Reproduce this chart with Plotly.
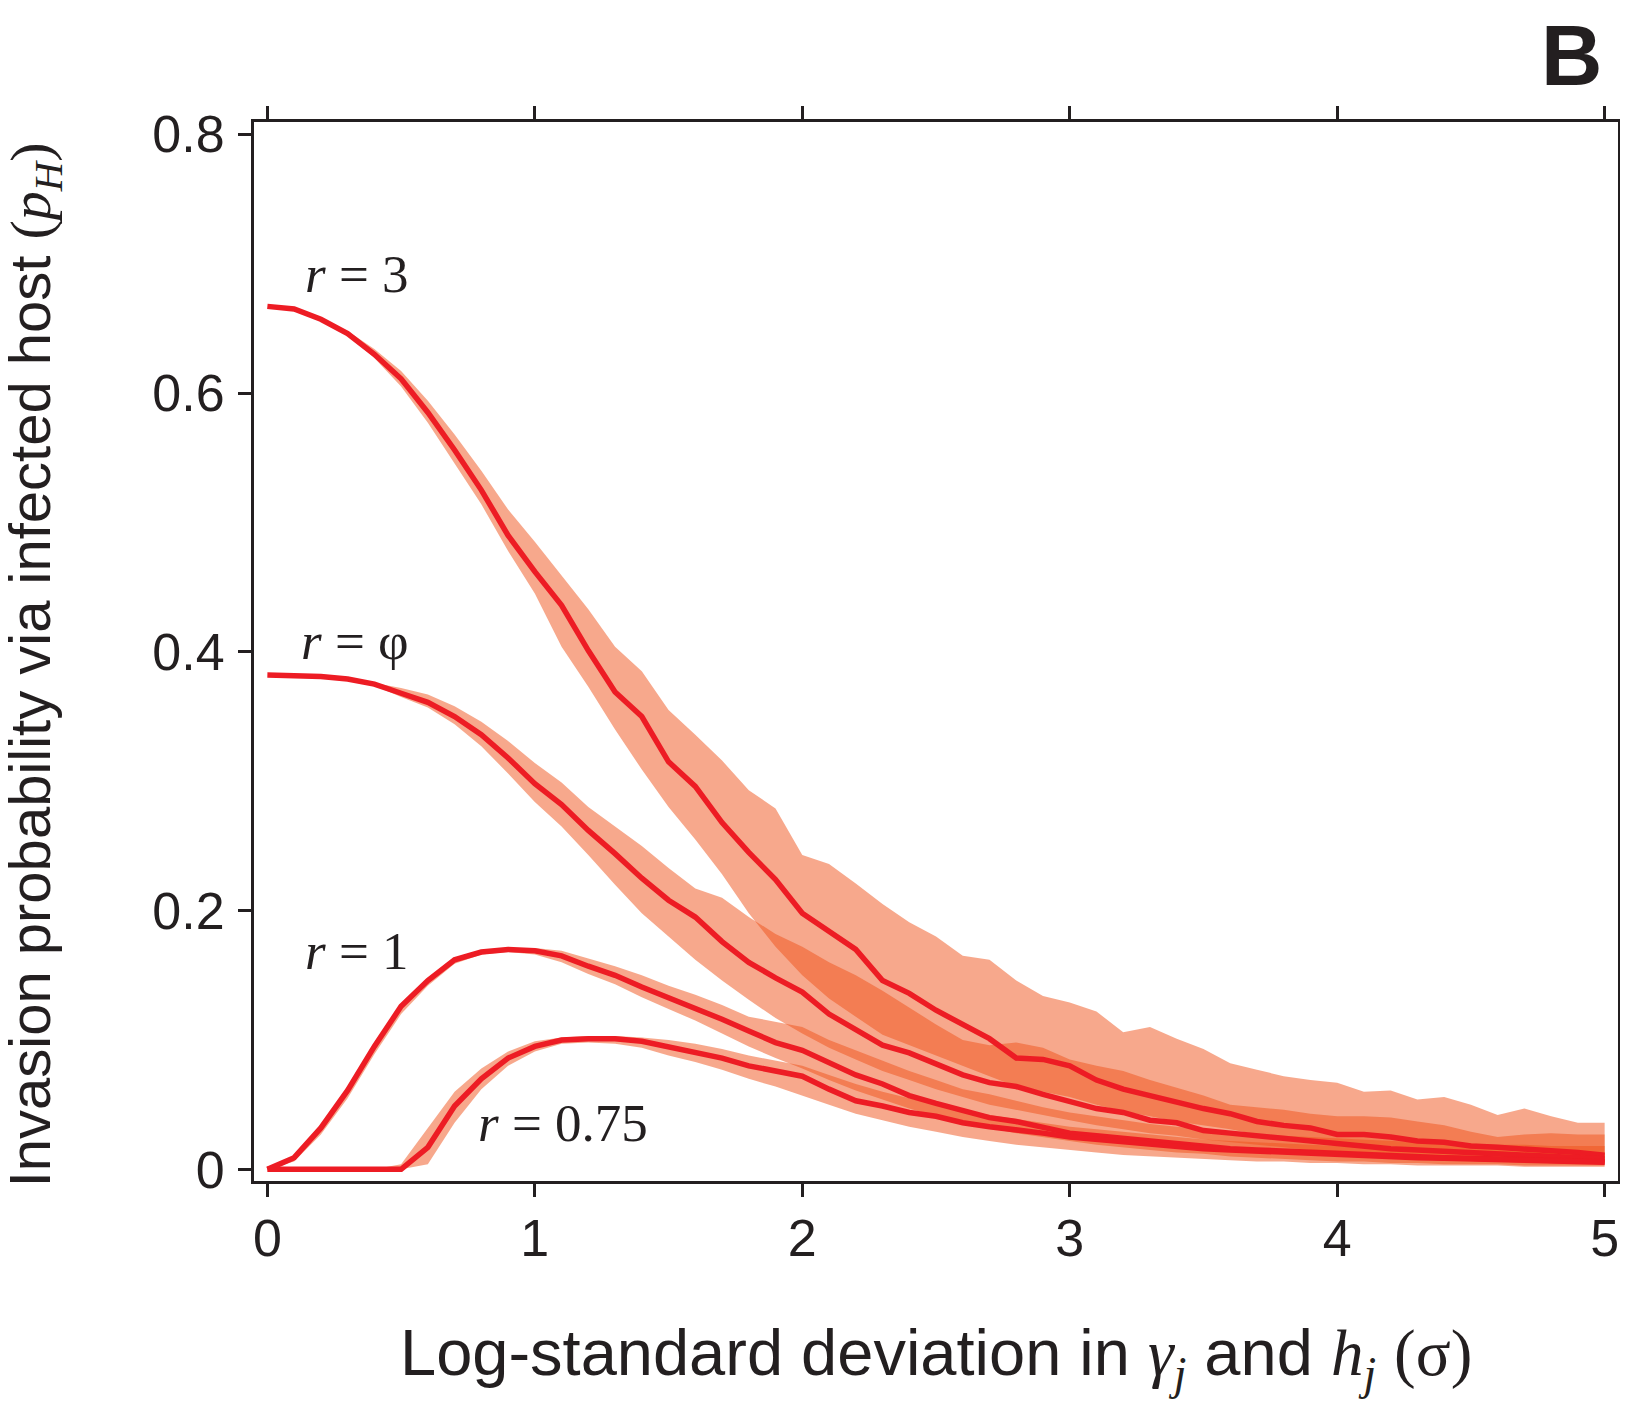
import plotly.graph_objects as go

# x grid (log-standard deviation sigma)
sigma = [0.0, 0.1, 0.2, 0.3, 0.4, 0.5, 0.6, 0.7, 0.8, 0.9,
         1.0, 1.1, 1.2, 1.3, 1.4, 1.5, 1.6, 1.7, 1.8, 1.9,
         2.0, 2.1, 2.2, 2.3, 2.4, 2.5, 2.6, 2.7, 2.8, 2.9,
         3.0, 3.1, 3.2, 3.3, 3.4, 3.5, 3.6, 3.7, 3.8, 3.9,
         4.0, 4.1, 4.2, 4.3, 4.4, 4.5, 4.6, 4.7, 4.8, 4.9,
         5.0]

# r = 3
r3_med = [0.667, 0.665, 0.657, 0.646, 0.630, 0.611, 0.585, 0.556, 0.525, 0.490,
          0.462, 0.436, 0.401, 0.369, 0.350, 0.315, 0.296, 0.268, 0.245, 0.224,
          0.198, 0.184, 0.170, 0.146, 0.136, 0.123, 0.112, 0.101, 0.086, 0.085,
          0.080, 0.069, 0.062, 0.057, 0.051, 0.047, 0.043, 0.037, 0.034, 0.032,
          0.027, 0.027, 0.025, 0.022, 0.021, 0.018, 0.017, 0.016, 0.014, 0.013,
          0.011]
r3_hi = [0.667, 0.665, 0.658, 0.648, 0.634, 0.617, 0.594, 0.568, 0.540, 0.510,
         0.485, 0.459, 0.433, 0.404, 0.385, 0.355, 0.336, 0.316, 0.293, 0.279,
         0.243, 0.236, 0.221, 0.205, 0.191, 0.180, 0.165, 0.162, 0.146, 0.134,
         0.129, 0.122, 0.106, 0.110, 0.101, 0.093, 0.082, 0.077, 0.072, 0.069,
         0.067, 0.060, 0.061, 0.054, 0.056, 0.050, 0.042, 0.047, 0.041, 0.036,
         0.036]
r3_lo = [0.667, 0.665, 0.656, 0.645, 0.627, 0.605, 0.577, 0.546, 0.514, 0.478,
         0.445, 0.404, 0.373, 0.340, 0.309, 0.280, 0.255, 0.228, 0.198, 0.172,
         0.150, 0.132, 0.118, 0.104, 0.096, 0.088, 0.080, 0.072, 0.064, 0.060,
         0.056, 0.050, 0.045, 0.041, 0.037, 0.034, 0.031, 0.027, 0.025, 0.023,
         0.020, 0.019, 0.018, 0.016, 0.015, 0.013, 0.012, 0.011, 0.010, 0.009,
         0.008]

# r = golden ratio (phi)
phi_med = [0.382, 0.382, 0.381, 0.379, 0.375, 0.368, 0.361, 0.350, 0.336, 0.318,
           0.298, 0.282, 0.262, 0.244, 0.225, 0.208, 0.195, 0.176, 0.160, 0.148,
           0.137, 0.120, 0.108, 0.096, 0.090, 0.081, 0.073, 0.067, 0.064, 0.058,
           0.052, 0.047, 0.044, 0.038, 0.036, 0.030, 0.028, 0.026, 0.023, 0.021,
           0.019, 0.018, 0.016, 0.015, 0.014, 0.013, 0.012, 0.011, 0.010, 0.009,
           0.008]
phi_hi = [0.382, 0.382, 0.381, 0.379, 0.376, 0.372, 0.367, 0.358, 0.346, 0.331,
          0.314, 0.299, 0.280, 0.265, 0.250, 0.233, 0.217, 0.210, 0.195, 0.182,
          0.172, 0.160, 0.150, 0.138, 0.125, 0.112, 0.100, 0.096, 0.098, 0.094,
          0.085, 0.080, 0.076, 0.069, 0.063, 0.057, 0.050, 0.048, 0.046, 0.043,
          0.041, 0.041, 0.040, 0.037, 0.034, 0.029, 0.025, 0.027, 0.028, 0.027,
          0.027]
phi_lo = [0.382, 0.382, 0.381, 0.379, 0.374, 0.365, 0.357, 0.344, 0.327, 0.306,
          0.284, 0.265, 0.243, 0.220, 0.198, 0.180, 0.162, 0.146, 0.131, 0.117,
          0.105, 0.094, 0.085, 0.076, 0.069, 0.062, 0.056, 0.050, 0.046, 0.042,
          0.038, 0.034, 0.031, 0.028, 0.026, 0.023, 0.021, 0.019, 0.017, 0.015,
          0.014, 0.013, 0.012, 0.011, 0.010, 0.009, 0.008, 0.007, 0.006, 0.006,
          0.005]

# r = 1
r1_med = [0.000, 0.009, 0.032, 0.061, 0.095, 0.126, 0.146, 0.162, 0.168, 0.170,
          0.169, 0.165, 0.157, 0.150, 0.141, 0.133, 0.125, 0.116, 0.107, 0.098,
          0.092, 0.082, 0.073, 0.066, 0.057, 0.051, 0.045, 0.040, 0.037, 0.032,
          0.028, 0.026, 0.024, 0.021, 0.020, 0.018, 0.016, 0.015, 0.014, 0.013,
          0.012, 0.011, 0.010, 0.0095, 0.009, 0.0085, 0.008, 0.0075, 0.007, 0.0065,
          0.006]
r1_hi = [0.000, 0.010, 0.034, 0.064, 0.098, 0.128, 0.148, 0.163, 0.169, 0.171,
         0.171, 0.169, 0.163, 0.157, 0.150, 0.142, 0.135, 0.127, 0.118, 0.114,
         0.110, 0.100, 0.092, 0.084, 0.076, 0.069, 0.062, 0.058, 0.053, 0.048,
         0.044, 0.041, 0.038, 0.035, 0.033, 0.031, 0.029, 0.027, 0.026, 0.025,
         0.024, 0.023, 0.022, 0.021, 0.020, 0.020, 0.019, 0.019, 0.018, 0.018,
         0.018]
r1_lo = [0.000, 0.006, 0.027, 0.055, 0.089, 0.120, 0.142, 0.159, 0.166, 0.168,
         0.166, 0.160, 0.151, 0.143, 0.133, 0.124, 0.115, 0.105, 0.095, 0.086,
         0.078, 0.069, 0.061, 0.054, 0.047, 0.041, 0.036, 0.032, 0.028, 0.025,
         0.022, 0.019, 0.017, 0.015, 0.013, 0.012, 0.010, 0.009, 0.008, 0.007,
         0.006, 0.006, 0.005, 0.005, 0.004, 0.004, 0.004, 0.003, 0.003, 0.003,
         0.003]

# r = 0.75
r075_med = [0.000, 0.000, 0.000, 0.000, 0.000, 0.000, 0.017, 0.049, 0.070, 0.086,
            0.095, 0.100, 0.101, 0.101, 0.099, 0.095, 0.091, 0.086, 0.080, 0.076,
            0.072, 0.062, 0.053, 0.049, 0.044, 0.041, 0.036, 0.033, 0.031, 0.028,
            0.025, 0.023, 0.021, 0.019, 0.018, 0.016, 0.015, 0.014, 0.013, 0.012,
            0.011, 0.010, 0.0095, 0.009, 0.0085, 0.008, 0.0075, 0.007, 0.0065, 0.006,
            0.0055]
r075_hi = [0.000, 0.000, 0.000, 0.000, 0.000, 0.004, 0.032, 0.060, 0.078, 0.091,
           0.099, 0.102, 0.103, 0.103, 0.102, 0.100, 0.097, 0.093, 0.088, 0.084,
           0.080, 0.073, 0.066, 0.060, 0.055, 0.050, 0.046, 0.042, 0.039, 0.036,
           0.033, 0.031, 0.029, 0.027, 0.025, 0.023, 0.022, 0.021, 0.020, 0.019,
           0.018, 0.017, 0.016, 0.015, 0.015, 0.014, 0.014, 0.013, 0.013, 0.012,
           0.012]
r075_lo = [0.000, 0.000, 0.000, 0.000, 0.000, 0.000, 0.004, 0.036, 0.062, 0.080,
           0.091, 0.097, 0.098, 0.097, 0.094, 0.088, 0.083, 0.077, 0.070, 0.064,
           0.057, 0.050, 0.043, 0.038, 0.033, 0.029, 0.025, 0.022, 0.019, 0.017,
           0.015, 0.013, 0.011, 0.010, 0.009, 0.008, 0.007, 0.006, 0.006, 0.005,
           0.005, 0.004, 0.004, 0.003, 0.003, 0.003, 0.003, 0.002, 0.002, 0.002,
           0.002]

x_ticks = [0, 1, 2, 3, 4, 5]
x_ticktext = ["0", "1", "2", "3", "4", "5"]
y_ticks = [0, 0.2, 0.4, 0.6, 0.8]
y_ticktext = ["0", "0.2", "0.4", "0.6", "0.8"]

series = [
    ("r = 3", r3_med, r3_lo, r3_hi),
    ("r = phi", phi_med, phi_lo, phi_hi),
    ("r = 1", r1_med, r1_lo, r1_hi),
    ("r = 0.75", r075_med, r075_lo, r075_hi),
]

BAND = "rgba(239,81,25,0.5)"
LINE = "#ED1C24"
INK = "#231F20"
SANS = "Liberation Sans, Arial, sans-serif"
SERIF = "Liberation Serif, Times New Roman, serif"

fig = go.Figure()
for name, med, lo, hi in series:
    fig.add_trace(go.Scatter(
        x=sigma + sigma[::-1], y=hi + lo[::-1],
        fill="toself", fillcolor=BAND, line=dict(width=0),
        mode="lines", hoverinfo="skip", showlegend=False))
for name, med, lo, hi in series:
    fig.add_trace(go.Scatter(
        x=sigma, y=med, mode="lines", name=name,
        line=dict(color=LINE, width=5.5), showlegend=False))

axis_common = dict(
    showgrid=False, zeroline=False, showline=True, linecolor=INK, linewidth=3,
    mirror="ticks", ticks="outside", ticklen=13, tickwidth=2.5, tickcolor=INK,
    tickfont=dict(family=SANS, size=52, color=INK), automargin=False,
)
fig.update_xaxes(range=[-0.05, 5.05], tickvals=x_ticks, ticktext=x_ticktext,
                 ticklabelstandoff=-3, **axis_common)
fig.update_yaxes(range=[-0.009, 0.8095], tickvals=y_ticks, ticktext=y_ticktext,
                 ticklabelstandoff=3, **axis_common)

sp = '<span style="font-family:Liberation Serif">'
annotations = [
    dict(text='Log-standard deviation in ' + sp + '<i>γ</i><sub><i>j</i></sub></span> and '
              + sp + '<i>h</i><sub><i>j</i></sub></span> ' + sp + '(σ)</span>',
         xref="paper", yref="paper", x=0.5, y=-0.167, xanchor="center", yanchor="middle",
         showarrow=False, font=dict(family=SANS, size=65, color=INK)),
    dict(text='Invasion probability via infected host ' + sp + '(<i>p</i><sub><i>H</i></sub>)</span>',
         xref="paper", yref="paper", x=-0.1615, y=0.4876, xanchor="center", yanchor="middle",
         textangle=-90, showarrow=False, font=dict(family=SANS, size=58, color=INK)),
    dict(text="<b>B</b>", xref="paper", yref="paper", x=0.9897, y=1.0625,
         xanchor="right", yanchor="middle", showarrow=False,
         font=dict(family=SANS, size=85, color=INK)),
    dict(text="<i>r</i> = 3", x=0.133, y=0.692, xref="x", yref="y",
         xanchor="left", yanchor="middle", showarrow=False,
         font=dict(family=SERIF, size=53, color=INK)),
    dict(text="<i>r</i> = φ", x=0.118, y=0.408, xref="x", yref="y",
         xanchor="left", yanchor="middle", showarrow=False,
         font=dict(family=SERIF, size=53, color=INK)),
    dict(text="<i>r</i> = 1", x=0.133, y=0.169, xref="x", yref="y",
         xanchor="left", yanchor="middle", showarrow=False,
         font=dict(family=SERIF, size=53, color=INK)),
    dict(text="<i>r</i> = 0.75", x=0.78, y=0.036, xref="x", yref="y",
         xanchor="left", yanchor="middle", showarrow=False,
         font=dict(family=SERIF, size=53, color=INK)),
]

# The page body adds an 8 px offset, so the figure is 8 px smaller on each side
fig.update_layout(
    width=1620, height=1393,
    margin=dict(l=246, r=10, t=114, b=220, pad=0, autoexpand=False),
    paper_bgcolor="white", plot_bgcolor="white",
    annotations=annotations, showlegend=False,
)

fig.write_html("out.html")
